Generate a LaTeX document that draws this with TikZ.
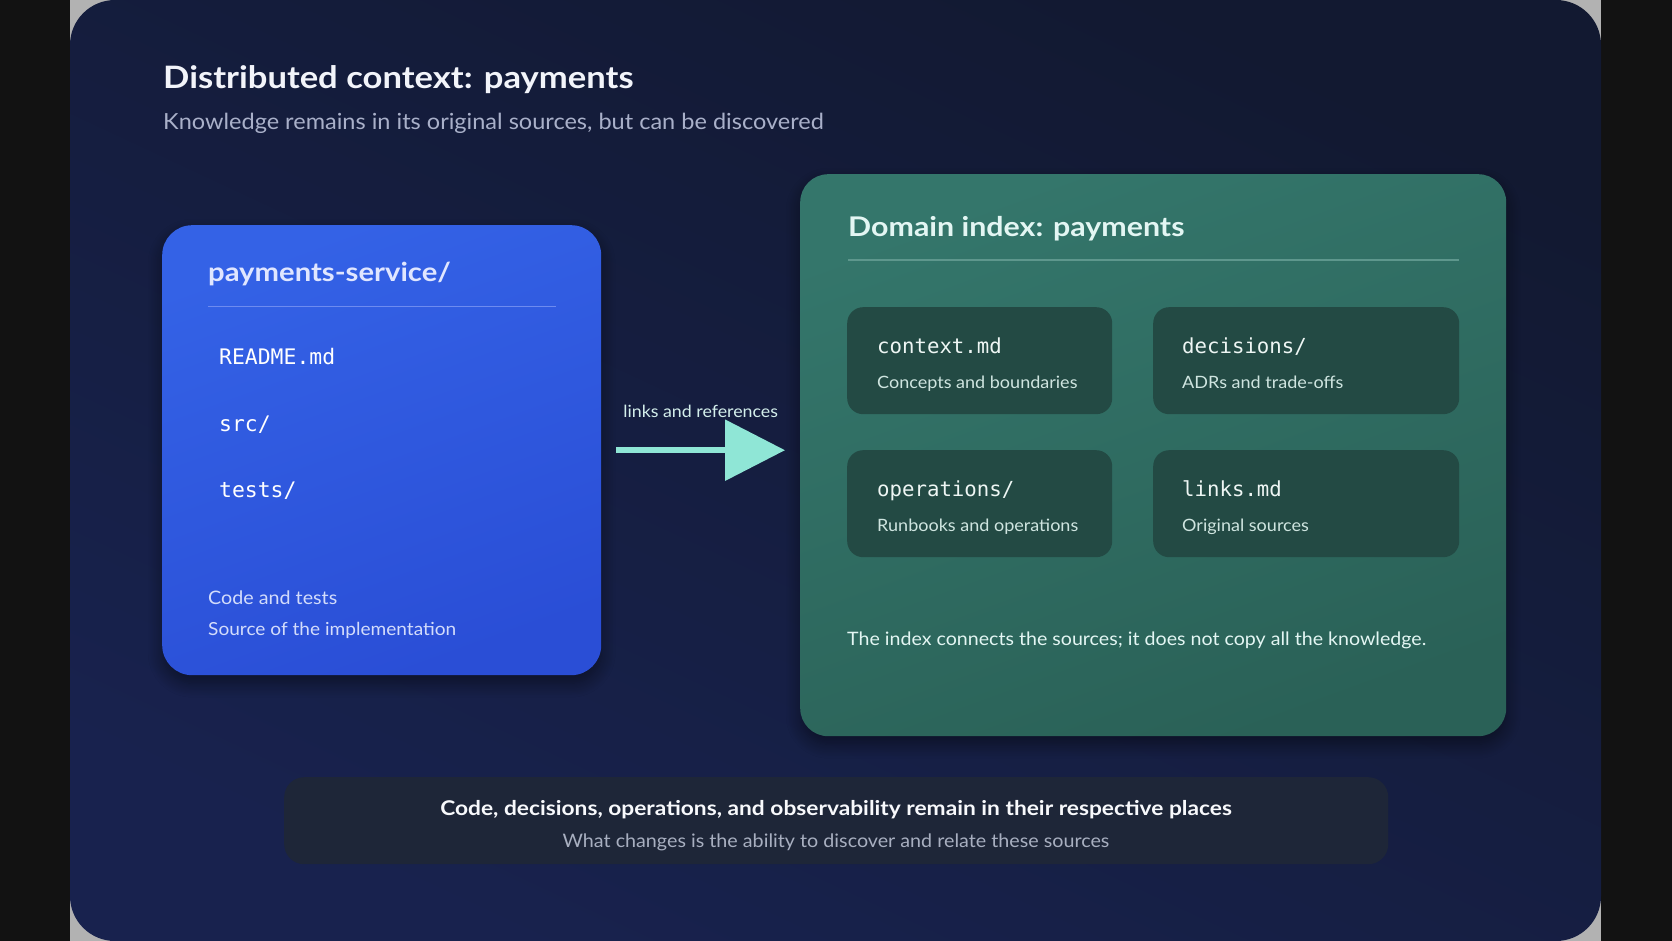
\documentclass[tikz,border=0pt]{standalone}
\usepackage{fontspec}
\setmainfont{Lato}[FakeStretch=1.06]
\newfontfamily\hb{Lato}[FakeStretch=1.12]
\setmonofont{DejaVu Sans Mono}
\usetikzlibrary{arrows.meta,shadows.blur}
\definecolor{navyA}{HTML}{121931}
\definecolor{navyB}{HTML}{18224E}
\definecolor{blueA}{HTML}{3462E6}
\definecolor{blueB}{HTML}{2A4ED6}
\definecolor{greenA}{HTML}{34766B}
\definecolor{greenB}{HTML}{2A6157}
\definecolor{cardc}{HTML}{234A44}
\definecolor{bannerc}{HTML}{1E2638}
\definecolor{arrowc}{HTML}{8FE6D6}
\definecolor{titlec}{HTML}{F2F4FA}
\definecolor{subc}{HTML}{A9B0C9}
\definecolor{svcc}{HTML}{E0E6FF}
\definecolor{bluesep}{HTML}{6D8BF0}
\definecolor{bluetxt}{HTML}{D3DCFB}
\definecolor{lblc}{HTML}{D4EFEC}
\definecolor{idxc}{HTML}{E3F6F3}
\definecolor{greensep}{HTML}{5E978D}
\definecolor{cardmono}{HTML}{EEF6F4}
\definecolor{cardsub}{HTML}{CFE5E0}
\definecolor{banbold}{HTML}{F8F9FC}
\definecolor{bansub}{HTML}{A8AFC0}
\newcommand\myfs[1]{\fontsize{#1}{#1}\selectfont}
\tikzset{
  txt/.style={anchor=base west, inner sep=0pt},
  boxshadow/.style={blur shadow={shadow xshift=0pt, shadow yshift=-8pt, shadow blur steps=12, shadow blur radius=14pt, shadow opacity=45}},
  bluebox/.style={rounded corners=30pt, anchor=north west, inner sep=0pt, top color=blueA, bottom color=blueB, shading angle=20, boxshadow},
  greenbox/.style={rounded corners=28pt, anchor=north west, inner sep=0pt, top color=greenA, bottom color=greenB, shading angle=20, boxshadow},
  cardbox/.style={rounded corners=16pt, anchor=north west, inner sep=0pt, fill=cardc, minimum height=107pt},
  bannerbox/.style={rounded corners=20pt, anchor=north west, inner sep=0pt, fill=bannerc, minimum width=1104pt, minimum height=87pt},
  monotxt/.style={txt, font=\ttfamily\myfs{21.4}, text=white},
  cardmonotxt/.style={txt, font=\ttfamily\myfs{20.7}, text=cardmono},
  cardsubtxt/.style={txt, font=\myfs{17}, text=cardsub},
  arrowline/.style={line width=6pt, draw=arrowc, -{Triangle[length=60pt,width=60pt]}},
}
\begin{document}
\begin{tikzpicture}[x=1pt,y=-1pt]
\useasboundingbox (0,0) rectangle (1672,941);
\fill[black!93] (0,0) rectangle (1672,941);
\fill[black!30] (70,0) rectangle (1601,941);
\shade[rounded corners=45pt, top color=navyA, bottom color=navyB, shading angle=-25] (70,0) rectangle (1601,941);

% title
\node[txt, font=\hb\bfseries\myfs{30.9}, text=titlec] (title) at (163,89) {Distributed context: payments};
\node[txt, font=\myfs{22.2}, text=subc] (subtitle) at (163,130) {Knowledge remains in its original sources, but can be discovered};

% left box
\node[bluebox, minimum width=439pt, minimum height=450pt] (svc) at (162,225) {};
\node[txt, font=\hb\bfseries\myfs{26.1}, text=svcc] (svct) at (208,281) {payments-service/};
\coordinate (sepA) at (208,306.5);
\coordinate (sepB) at (556,306.5);
\draw[bluesep, line width=1.5pt] (sepA) -- (sepB);
\node[monotxt] (readme) at (219,364) {README.md};
\node[monotxt] (src) at (219,431) {src/};
\node[monotxt] (tests) at (219,497) {tests/};
\node[txt, font=\myfs{18.6}, text=bluetxt] (code) at (208,604) {Code and tests};
\node[txt, font=\myfs{18}, text=bluetxt] (impl) at (208,635) {Source of the implementation};

% right box
\node[greenbox, minimum width=706pt, minimum height=562pt] (idx) at (800,174) {};
\node[txt, font=\hb\bfseries\myfs{27.1}, text=idxc] (idxt) at (848,237) {Domain index: payments};
\coordinate (sepC) at (848,260);
\coordinate (sepD) at (1459,260);
\draw[greensep, line width=1.5pt] (sepC) -- (sepD);

\node[cardbox, minimum width=265pt] (c1) at (847,307) {};
\node[cardbox, minimum width=306pt] (c2) at (1153,307) {};
\node[cardbox, minimum width=265pt] (c3) at (847,450) {};
\node[cardbox, minimum width=306pt] (c4) at (1153,450) {};

\node[cardmonotxt] (c1a) at (877,353) {context.md};
\node[cardsubtxt] (c1b) at (877,388) {Concepts and boundaries};
\node[cardmonotxt] (c2a) at (1182,353) {decisions/};
\node[cardsubtxt] (c2b) at (1182,388) {ADRs and trade-offs};
\node[cardmonotxt] (c3a) at (877,496) {operations/};
\node[cardsubtxt] (c3b) at (877,531) {Runbooks and operations};
\node[cardmonotxt] (c4a) at (1182,496) {links.md};
\node[cardsubtxt] (c4b) at (1182,531) {Original sources};

\node[txt, font=\myfs{18.5}, text=idxc] (note) at (847,645) {The index connects the sources; it does not copy all the knowledge.};

% arrow
\draw[arrowline, shorten <=15pt, shorten >=15pt] (svc.east) -- (svc.east -| idx.west)
  node[midway, anchor=base, yshift=33pt, inner sep=0pt, font=\myfs{16.8}, text=lblc] (lbl) {links and references};

% banner
\node[bannerbox] (ban) at (284,777) {};
\node[anchor=base, inner sep=0pt, font=\hb\bfseries\myfs{20.3}, text=banbold] (banA) at (836,815) {Code, decisions, operations, and observability remain in their respective places};
\node[anchor=base, inner sep=0pt, font=\myfs{18.6}, text=bansub] (banB) at (836,847) {What changes is the ability to discover and relate these sources};
\end{tikzpicture}
\end{document}
